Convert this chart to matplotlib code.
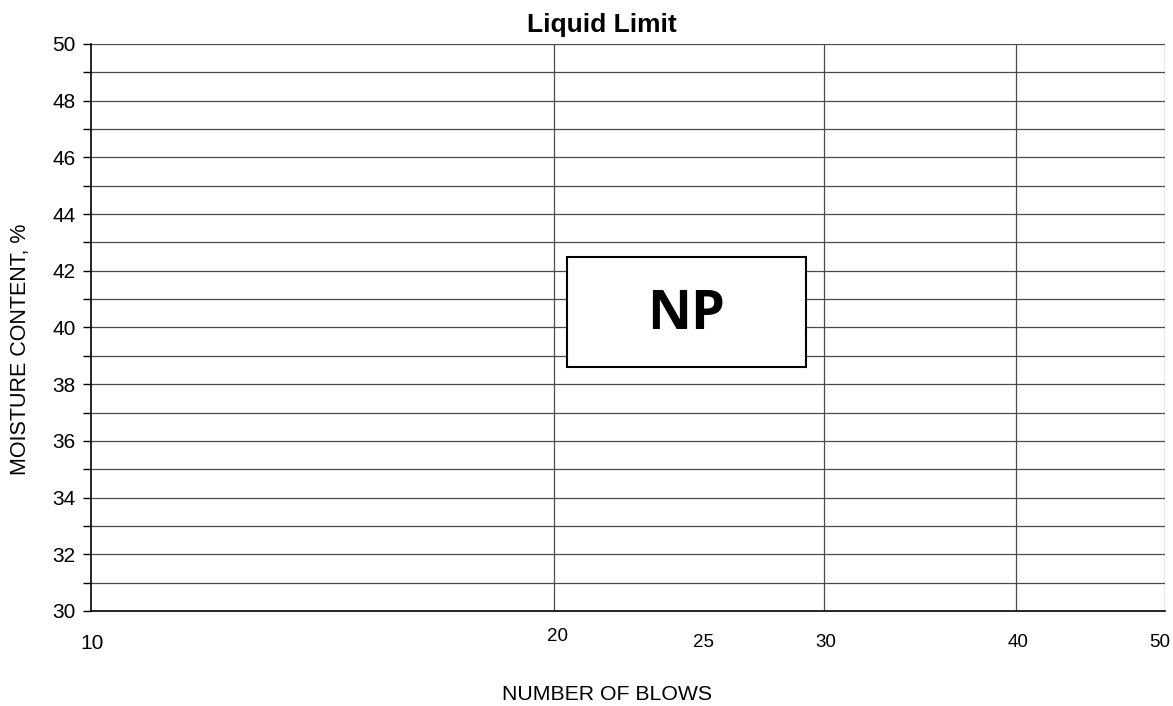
import matplotlib.pyplot as plt
import matplotlib.transforms as mtransforms
import numpy as np

plt.rcParams['font.family'] = ['Liberation Sans', 'DejaVu Sans']

# Axis ranges and ticks
x_min, x_max = 10, 50
y_min, y_max = 30, 50
x_grid = [20, 30, 40, 50]
x_labels = [10, 20, 25, 30, 40, 50]
x_label_drop = [33, 26, 32, 32, 32, 32]   # px below axis for each label
x_label_shift = [1, 4, 1, 2, 2, -5]       # px sideways for each label
x_label_size = [15, 13.5, 13.5, 13.5, 13.5, 13.5]
y_major = np.arange(30, 51, 2)
y_minor = np.arange(31, 50, 2)

# Non-plastic note box (blows, moisture)
np_box_x = [20.4, 29.2]
np_box_y = [38.6, 42.5]
np_text = "NP"

fig = plt.figure(figsize=(11.73, 7.06), dpi=100)
ax = fig.add_axes([0.0776, 0.1346, 0.9156, 0.8031])

ax.set_xscale('log')
ax.set_xlim(x_min, x_max)
ax.set_ylim(y_min, y_max)

# Grid lines
for y in np.arange(y_min + 1, y_max + 1, 1):
    ax.axhline(y, color='#4a4a4a', lw=0.9, zorder=1)
for x in x_grid:
    ax.axvline(x, color='#4a4a4a', lw=0.9, zorder=1)

# Spines
ax.spines['top'].set_visible(False)
ax.spines['right'].set_visible(False)
ax.spines['left'].set_linewidth(1.2)
ax.spines['bottom'].set_linewidth(1.2)

# Y ticks
ax.set_yticks(y_major)
ax.set_yticks(y_minor, minor=True)
ax.set_yticklabels([str(v) for v in y_major], fontsize=15)
ax.tick_params(axis='y', which='both', direction='out', length=6, width=1, pad=5)
ax.tick_params(axis='y', which='minor', labelleft=False)

# X tick labels placed individually
ax.set_xticks([])
ax.set_xticks([], minor=True)
for x, drop, shift, size in zip(x_labels, x_label_drop, x_label_shift, x_label_size):
    trans = mtransforms.offset_copy(
        ax.get_xaxis_transform(), fig=fig, x=shift, y=-drop, units='dots')
    ax.text(x, 0, str(x), transform=trans, ha='center', va='center', fontsize=size)

# NP box
ax.fill([np_box_x[0], np_box_x[1], np_box_x[1], np_box_x[0]],
        [np_box_y[0], np_box_y[0], np_box_y[1], np_box_y[1]],
        facecolor='white', edgecolor='black', lw=1.5, zorder=3)
ax.text(np.sqrt(np_box_x[0] * np_box_x[1]), np.mean(np_box_y) - 0.1, np_text,
        family='Open Sans', fontweight='bold', fontsize=39,
        ha='center', va='center', zorder=4)

fig.text(0.5132, 0.9547, "Liquid Limit", ha='center', va='baseline',
         fontsize=19, fontweight='bold')
fig.text(0.5175, 0.0156, "NUMBER OF BLOWS", ha='center', va='center', fontsize=15.3)
fig.text(0.0179, 0.5057, "MOISTURE CONTENT, %", ha='center', va='center',
         rotation=90, fontsize=15.5)

fig.savefig("out.png", dpi=100)
